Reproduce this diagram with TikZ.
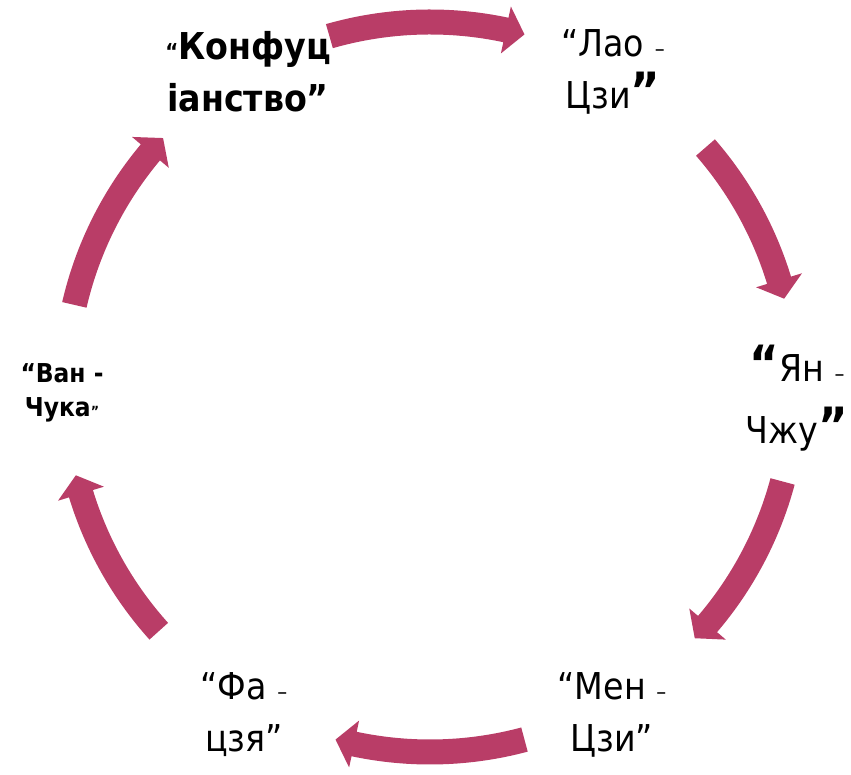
\documentclass[tikz,border=0pt]{standalone}
\usepackage{fontspec}
\setmainfont{DejaVu Sans Condensed}
\definecolor{arrowcol}{RGB}{185,61,103}
\newcommand\bigq[1]{{\fontsize{50}{40}\selectfont\bfseries #1}}
\newcommand\smq[1]{{\fontsize{22}{22}\selectfont #1}}
\newcommand\dsh{{\fontsize{22}{22}\selectfont –}}
\begin{document}
\begin{tikzpicture}[x=1pt,y=1pt,
  lbl/.style={align=center,inner sep=0pt,font=\fontsize{37}{52}\selectfont},
  arrowfill/.style={fill=arrowcol}]
\useasboundingbox (0,0) rectangle (851,775);
\begin{scope}[shift={(430,388)}]
\newcommand\cyc[2]{%
  \fill[arrowfill] (#1:377.5) arc[start angle=#1, end angle={#2+3}, radius=377.5]
    -- ({#2+3}:389) -- (#2:365) -- ({#2+3}:341) -- ({#2+3}:352.5)
    arc[start angle={#2+3}, end angle=#1, radius=352.5] -- cycle;}
\cyc{106}{75}
\cyc{41}{14}
\cyc{-15}{-43.5}
\cyc{-75}{-105}
\cyc{222}{194}
\cyc{167}{137}
\end{scope}
\node[lbl] (konf) at (248,703) {\smq{\bfseries “}\textbf{Конфуц}\\\textbf{іанство”}};
\node[lbl] (lao) at (613,703) {“Лао \dsh\\Цзи\bigq{”}};
\node[lbl] (yan) at (797,377) {\bigq{“}Ян \dsh\\[10pt]Чжу\bigq{”}};
\node[lbl] (men) at (612,60) {“Мен \dsh\\Цзи”};
\node[lbl] (fa) at (244,60) {“Фа \dsh\\цзя”};
\node[lbl,font=\fontsize{26}{34}\selectfont\bfseries] (van) at (62,382) {“Ван -\\Чука\smq{\fontsize{14}{14}\selectfont ”}};
\end{tikzpicture}
\end{document}
